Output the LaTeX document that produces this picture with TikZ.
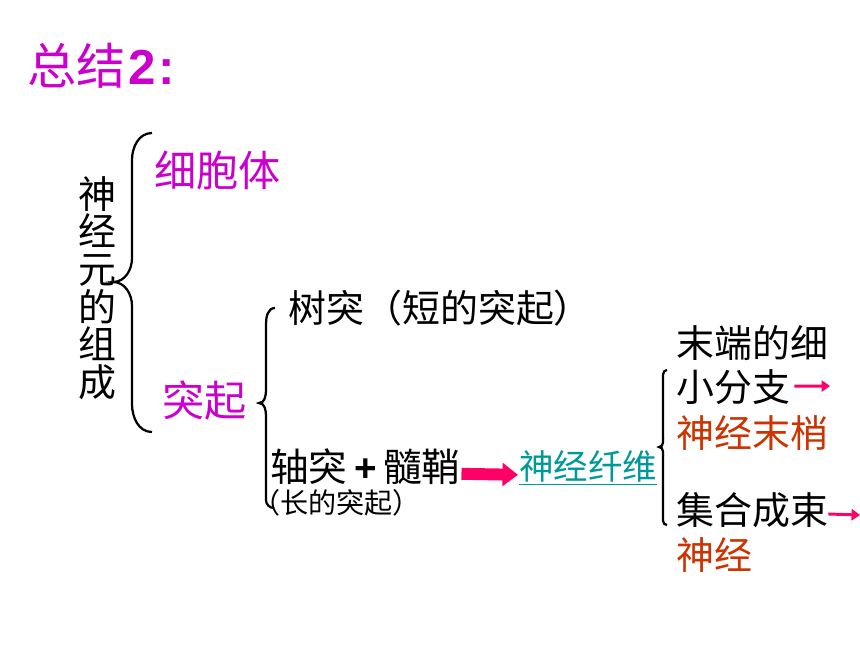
\documentclass[tikz,border=0pt]{standalone}
\usepackage{xcolor}
\usepackage{fontspec}
\newfontfamily\cjk{Noto Sans CJK SC}
\setsansfont{Liberation Sans}
\usepackage{tikz}
\usetikzlibrary{arrows.meta,calc}

\definecolor{titlemag}{HTML}{CC00CC}
\definecolor{endred}{HTML}{CC3300}
\definecolor{fibreteal}{HTML}{009999}
\definecolor{arrowpink}{HTML}{FF0066}

\tikzset{
  txt/.style={inner sep=0pt, anchor=west, font=\cjk\fontsize{27}{30}\selectfont},
  bigtxt/.style={txt, font=\cjk\fontsize{30}{34}\selectfont, text=titlemag},
  bracket/.style={black, line width=1.6pt},
  smallarrow/.style={arrowpink, line width=2.1pt, -{Triangle[length=6pt,width=8pt]}}
}

\begin{document}
\begin{tikzpicture}
\useasboundingbox (0,0) rectangle (21.5,-16.125);

\node[txt, font=\cjk\fontsize{35}{40}\selectfont, text=titlemag] (title) at (0.68,-1.65) {总结{\sffamily\bfseries\kern2pt 2\kern2pt:}};

\node[inner sep=0pt, align=center, font=\cjk\fontsize{27}{26.7}\selectfont] (neuron) at (2.425,-7.2) {神\\经\\元\\的\\组\\成};

\draw [bracket] (3.8,-3.325) to[out=180,in=90] (3.3,-4.0) -- (3.3,-6.45) to[out=270,in=0] (2.825,-7.05)
  to[out=0,in=90] (3.3,-7.65) -- (3.3,-10.1) to[out=270,in=180] (3.8,-10.8);

\node[bigtxt] (soma) at (3.85,-4.25) {细胞体};
\node[bigtxt] (process) at (4.05,-10.0) {突起};

\draw [bracket] (6.875,-7.7) to[out=180,in=90] (6.65,-8.1) -- (6.65,-9.75) to[out=270,in=0] (6.475,-10.075)
  to[out=0,in=90] (6.65,-10.4) -- (6.65,-12.5) to[out=270,in=180] (6.85,-12.7);

\node[txt] (dendrite) at (7.2,-7.7) {树突（短的突起）};
\node[txt, font=\cjk\fontsize{27.5}{30}\selectfont] (axon) at (6.75,-11.675) {轴突{\sffamily\bfseries\,+\,}髓鞘};
\node[txt, font=\cjk\fontsize{20}{22}\selectfont] (long) at (6.3,-12.58) {（长的突起）};
\node[txt, font=\cjk\fontsize{24.5}{26}\selectfont, text=fibreteal] (fibre) at (12.98,-11.7) {\underline{神经纤维}};

\draw [arrowpink, line width=8.5pt, -{Triangle[length=11pt,width=16pt]}] ($(axon.east)+(0.02,-0.17)$) -- ($(fibre.west)+(-0.03,-0.17)$);

\draw [bracket] (16.675,-9.25) to[out=180,in=90] (16.575,-9.55) -- (16.575,-10.85) to[out=270,in=0] (16.475,-11.175)
  to[out=0,in=90] (16.575,-11.5) -- (16.575,-12.8) to[out=270,in=180] (16.675,-13.125);

\node[txt] (tipa) at (16.9,-8.575) {末端的细};
\node[txt] (tipb) at (16.9,-9.675) {小分支};
\node[txt, text=endred] (ending) at (16.9,-10.825) {神经末梢};
\node[txt] (bundle) at (16.9,-12.75) {集合成束};
\node[txt, text=endred] (nerve) at (16.9,-13.875) {神经};

\coordinate (tipend) at (20.75,-9.65);
\coordinate (bundleend) at (21.5,-12.875);
\draw [smallarrow] ($(tipb.east)+(0.1,0.02)$) -- (tipend);
\draw [smallarrow] ($(bundle.east)+(0,-0.1)$) -- (bundleend);

\end{tikzpicture}
\end{document}
